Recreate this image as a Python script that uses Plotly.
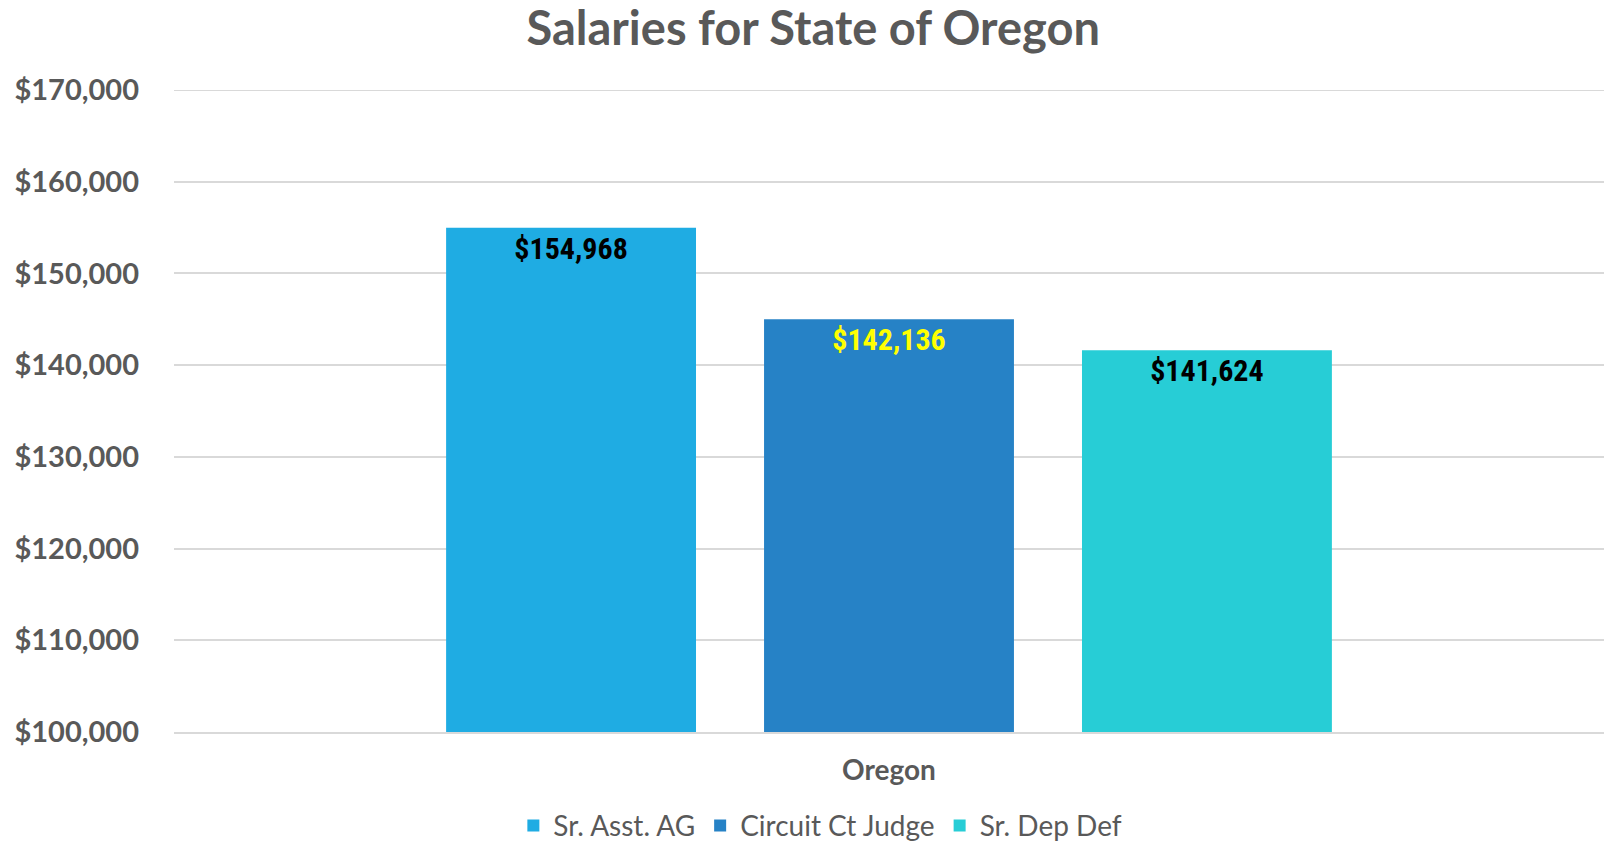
import plotly.graph_objects as go

categories = ["Oregon"]
series_names = ["Sr. Asst. AG", "Circuit Ct Judge", "Sr. Dep Def"]
bar_values = [154968, 145000, 141624]
label_texts = ["$154,968", "$142,136", "$141,624"]
colors = ["#1FACE3", "#2682C6", "#27CDD6"]
label_colors = ["#000000", "#FFFF00", "#000000"]
tick_vals = [100000, 110000, 120000, 130000, 140000, 150000, 160000, 170000]
tick_text = ["$100,000", "$110,000", "$120,000", "$130,000", "$140,000", "$150,000", "$160,000", "$170,000"]

fig = go.Figure()
for name, v, t, c, lc in zip(series_names, bar_values, label_texts, colors, label_colors):
    fig.add_trace(go.Bar(
        x=categories, y=[v], name=name, marker=dict(color=c, line=dict(width=0)),
        text=[t], textposition="inside", insidetextanchor="end",
        textfont=dict(family="Liberation Sans Narrow, Roboto Condensed, Arial Narrow, sans-serif",
                      size=30, color=lc, weight="bold"),
        textangle=0, cliponaxis=False,
    ))

fig.update_layout(
    width=1604, height=843,
    paper_bgcolor="white", plot_bgcolor="white",
    margin=dict(l=174, r=0, t=90, b=111, autoexpand=False),
    barmode="group", bargap=0.333, bargroupgap=0.214,
    title=dict(text="<b>Salaries for State of Oregon</b>", x=0.507, xanchor="center",
               y=0.966, yanchor="middle",
               font=dict(family="Lato, Open Sans, sans-serif", size=47, color="#595959")),
    showlegend=True,
    legend=dict(orientation="h", x=0.452, xanchor="center", y=-0.146, yanchor="middle",
                font=dict(family="Lato, Open Sans, sans-serif", size=28, color="#595959"),
                itemwidth=30, traceorder="normal"),
    uniformtext=dict(mode=False),
)
fig.update_yaxes(range=[100000, 170000], tickvals=tick_vals, ticktext=tick_text,
                 showgrid=True, gridcolor="#D9D9D9", gridwidth=2, zeroline=False,
                 showline=False, ticks="", ticklabelstandoff=34, automargin=False,
                 tickfont=dict(family="Lato, Open Sans, sans-serif", size=29, color="#595959", weight="bold"))
fig.update_xaxes(showline=True, linecolor="#D9D9D9", linewidth=2, ticks="", automargin=False,
                 tickfont=dict(family="Lato, Open Sans, sans-serif", size=28, color="#595959", weight="bold"),
                 ticklabelstandoff=12)
# top gridline at range edge
fig.add_shape(type="line", xref="paper", yref="y", x0=0, x1=1, y0=tick_vals[-1], y1=tick_vals[-1],
              line=dict(color="#D9D9D9", width=2), layer="below")

fig.write_html("out.html", config={"displayModeBar": False},
               post_script="document.body.style.margin='0';document.body.style.overflow='hidden';")
